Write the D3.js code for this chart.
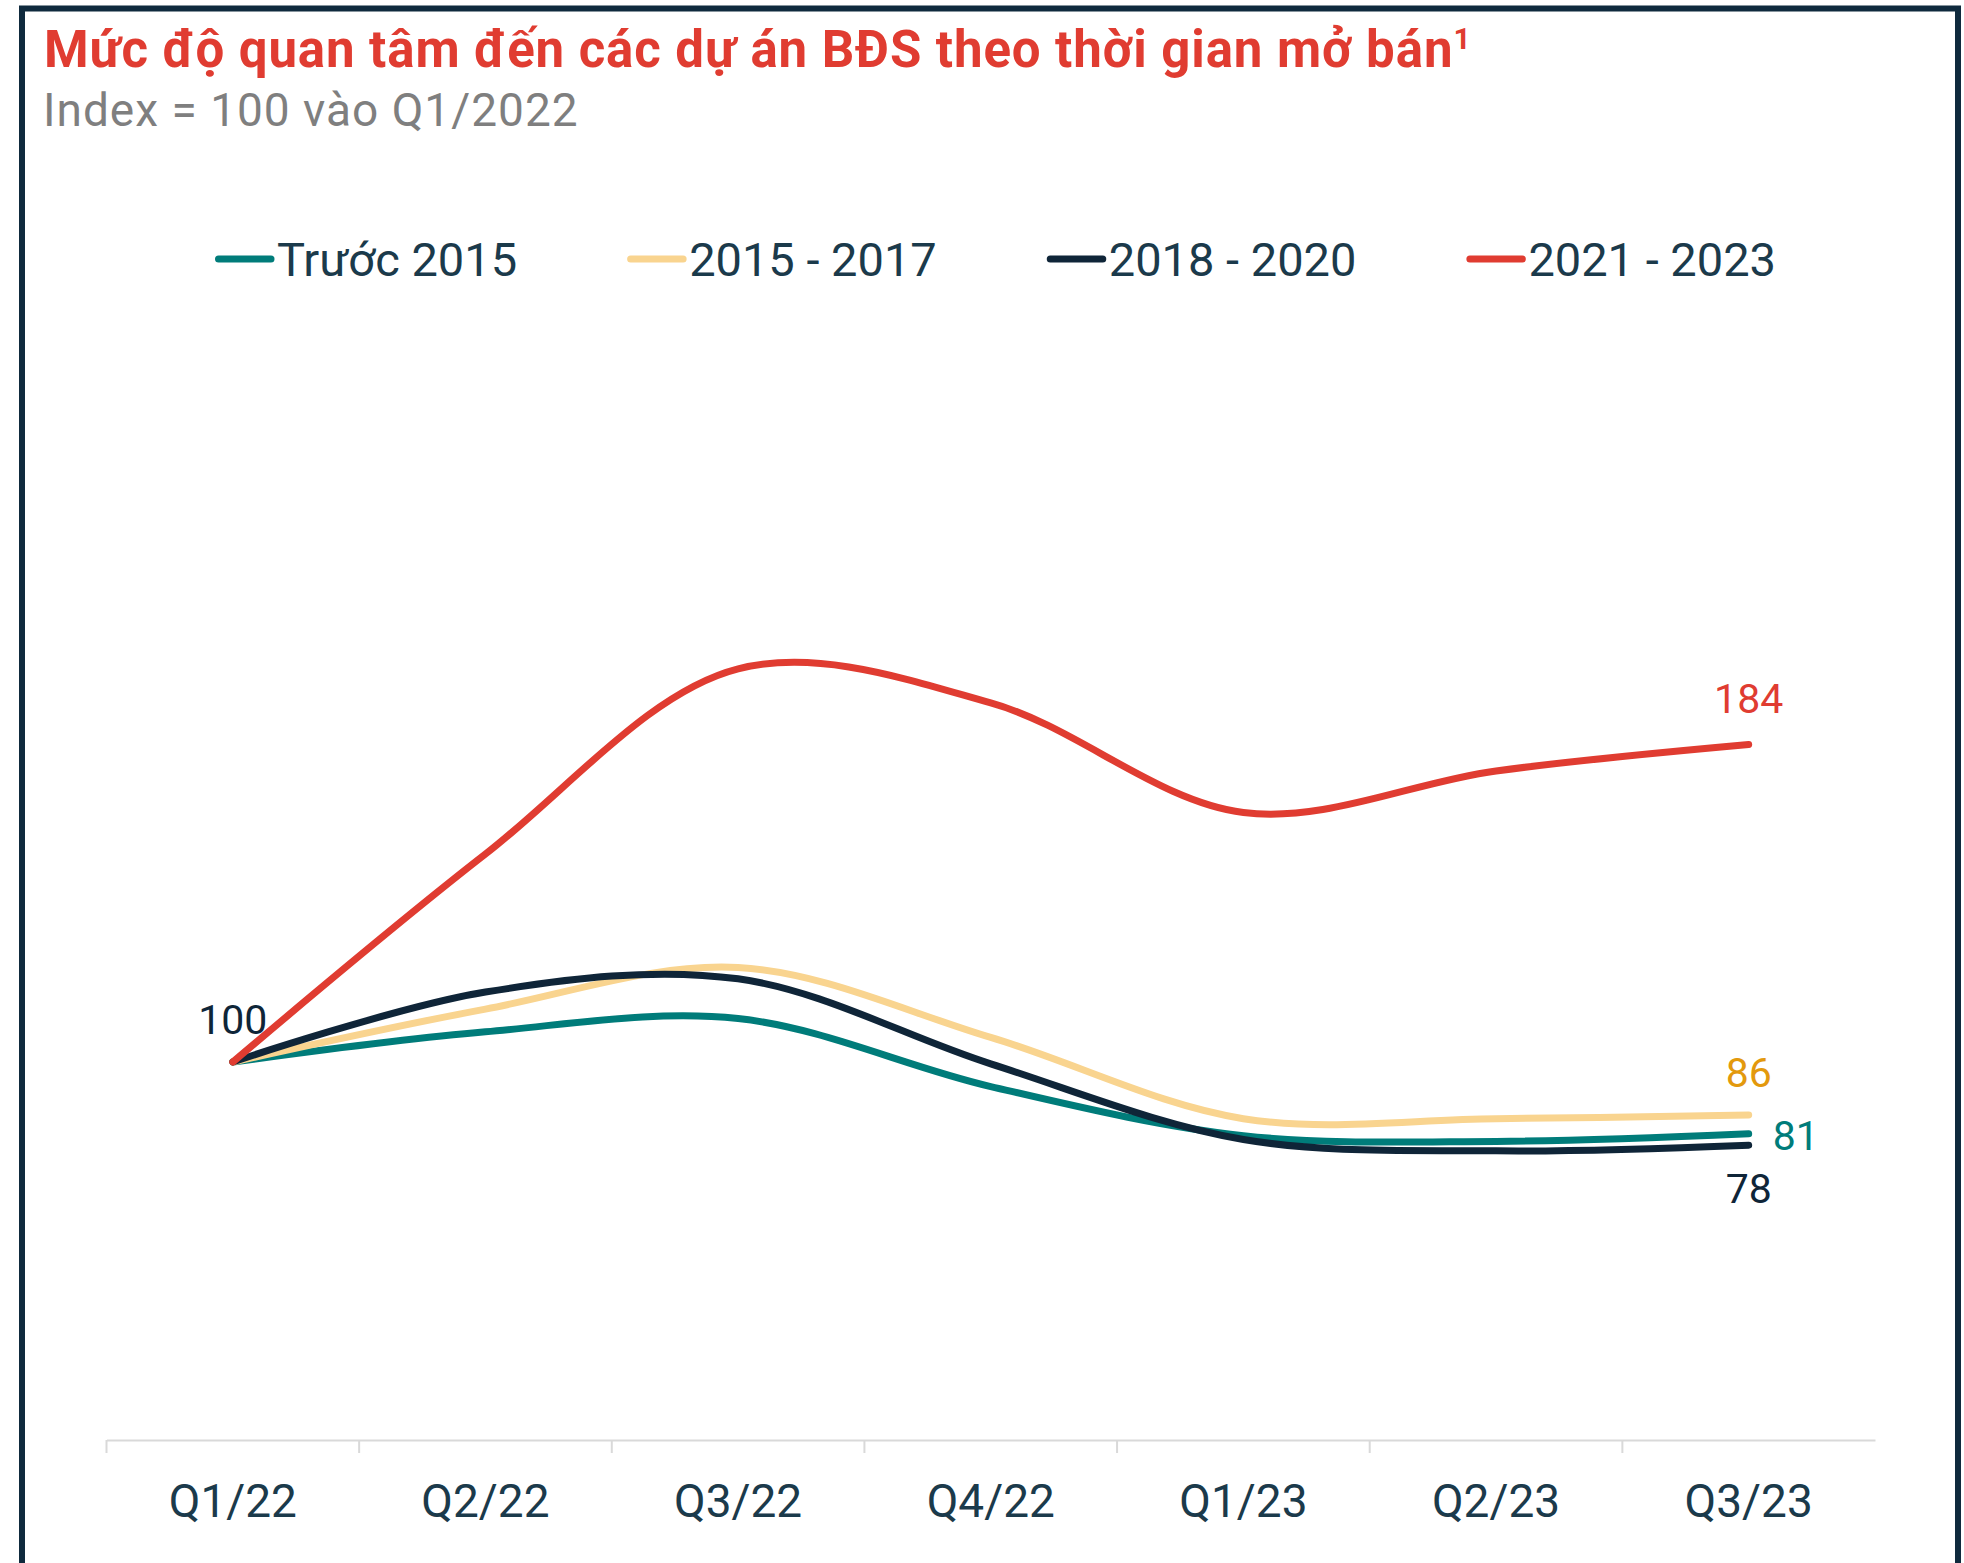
<!DOCTYPE html>
<html>
<head>
<meta charset="utf-8">
<script src="https://cdn.jsdelivr.net/npm/d3@7"></script>
<style>
  body { margin: 0; background: #fff; }
  text { font-family: Roboto, "Noto Sans", sans-serif; }
</style>
</head>
<body>
<div id="chart"></div>
<script>
// data (index, Q1/2022 = 100)
const quarters = ["Q1/22", "Q2/22", "Q3/22", "Q4/22", "Q1/23", "Q2/23", "Q3/23"];
const seriesNames = ["Trước 2015", "2015 - 2017", "2018 - 2020", "2021 - 2023"];
const truoc2015 = [100, 108, 111.5, 93.5, 80.5, 79, 81];
const y2015_2017 = [100, 114, 125, 106.5, 85, 85, 86];
const y2018_2020 = [100, 118.5, 122, 99.5, 79.5, 76.5, 78];
const y2021_2023 = [100, 155, 204, 195, 166, 177, 184];

const seriesValues = [truoc2015, y2015_2017, y2018_2020, y2021_2023];
const lineColors = ["#007c7a", "#f9d48f", "#0f2538", "#e03c31"];
const labelColors = ["#007c7a", "#e3990d", "#0f2538", "#e03c31"];

const width = 1964, height = 1563;
const textColor = "#1b3a4b";

const svg = d3.select("#chart").append("svg")
    .attr("width", width)
    .attr("height", height);

svg.append("rect")
    .attr("width", width).attr("height", height)
    .attr("fill", "#fff");

// frame
svg.append("rect")
    .attr("x", 22).attr("y", 8.5)
    .attr("width", 1936).attr("height", 1620)
    .attr("fill", "none")
    .attr("stroke", "#0f2a3d")
    .attr("stroke-width", 6);

// title
const title = svg.append("text")
    .attr("x", 44).attr("y", 67)
    .attr("font-size", 51)
    .attr("font-weight", "bold")
    .attr("letter-spacing", 0.9)
    .attr("fill", "#e03c31")
    .text("Mức độ quan tâm đến các dự án BĐS theo thời gian mở bán");
title.append("tspan")
    .attr("font-size", 30)
    .attr("dy", -18)
    .text("1");

svg.append("text")
    .attr("x", 43).attr("y", 126)
    .attr("font-size", 46)
    .attr("letter-spacing", 1)
    .attr("fill", "#7f7f7f")
    .text("Index = 100 vào Q1/2022");

// scales
const xScale = d3.scaleBand()
    .domain(quarters)
    .range([106.5, 1875])
    .padding(0);
const xMid = q => xScale(q) + xScale.bandwidth() / 2;

const yScale = d3.scaleLinear()
    .domain([0, 250])
    .range([1440, 1440 - 250 * 3.78]);

// x axis
const xAxis = d3.axisBottom(xScale).tickSize(0).tickSizeOuter(0).tickPadding(44);
const gx = svg.append("g")
    .attr("transform", "translate(0,1440)")
    .call(xAxis);
gx.select(".domain").attr("stroke", "#d9d9d9").attr("stroke-width", 2);
gx.selectAll(".tick text")
    .attr("font-size", 46)
    .attr("font-family", "Roboto, sans-serif")
    .attr("fill", textColor);
gx.selectAll(".tick-mark")
    .data(quarters)
    .enter()
    .append("line")
    .attr("class", "tick-mark")
    .attr("x1", d => xScale(d)).attr("x2", d => xScale(d))
    .attr("y1", 0).attr("y2", 13)
    .attr("stroke", "#d9d9d9")
    .attr("stroke-width", 2);

// lines
const line = d3.line()
    .x((d, i) => xMid(quarters[i]))
    .y(d => yScale(d))
    .curve(d3.curveCatmullRom.alpha(0.5));

svg.selectAll(".series")
    .data(seriesValues)
    .enter()
    .append("path")
    .attr("class", "series")
    .attr("d", d => line(d))
    .attr("fill", "none")
    .attr("stroke", (d, i) => lineColors[i])
    .attr("stroke-width", 7)
    .attr("stroke-linecap", "round")
    .attr("stroke-linejoin", "round");

// data labels
const last = quarters[quarters.length - 1];
// offsets of the end labels, per series: [dx, dy, anchor]
const labelPos = [[24, 16, "start"], [0, -28, "middle"], [0, 58, "middle"], [0, -31, "middle"]];
seriesValues.forEach((vals, i) => {
    const v = vals[vals.length - 1];
    svg.append("text")
        .attr("x", xMid(last) + labelPos[i][0])
        .attr("y", yScale(v) + labelPos[i][1])
        .attr("text-anchor", labelPos[i][2])
        .attr("font-size", 41)
        .attr("fill", labelColors[i])
        .text(d3.format(".0f")(v));
});
svg.append("text")
    .attr("x", xMid(quarters[0]))
    .attr("y", yScale(y2018_2020[0]) - 28)
    .attr("text-anchor", "middle")
    .attr("font-size", 41)
    .attr("fill", "#0f2538")
    .text(y2018_2020[0]);

// legend
const legend = svg.append("g").attr("transform", "translate(215,259)");
let lx = 0;
seriesNames.forEach((name, i) => {
    const g = legend.append("g").attr("transform", `translate(${lx},0)`);
    g.append("line")
        .attr("x1", 3.5).attr("x2", 56)
        .attr("stroke", lineColors[i])
        .attr("stroke-width", 7)
        .attr("stroke-linecap", "round");
    const t = g.append("text")
        .attr("x", 62).attr("y", 17)
        .attr("font-size", 47)
        .attr("fill", textColor)
        .text(name);
    lx += 62 + t.node().getComputedTextLength() + 110;
});
</script>
</body>
</html>
